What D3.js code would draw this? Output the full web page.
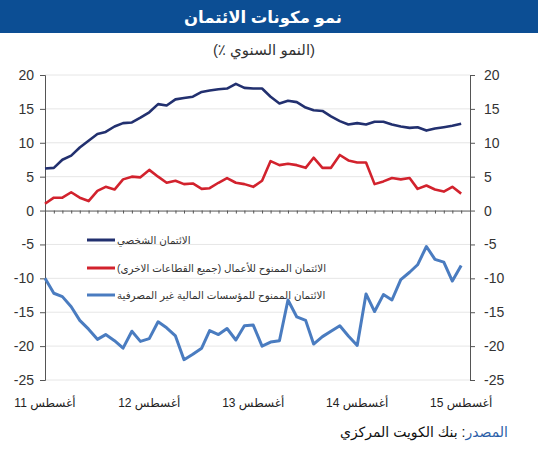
<!DOCTYPE html>
<html>
<head>
<meta charset="utf-8">
<script src="https://cdn.jsdelivr.net/npm/d3@7"></script>
<style>
  body { margin: 0; background: #fff; }
  svg text { font-family: "Liberation Sans", Arial, "DejaVu Sans", sans-serif; }
</style>
</head>
<body>
<div id="chart"></div>
<script>
// monthly data, Aug 2011 .. Aug 2015
var personalCredit = [6.2, 6.3, 7.5, 8.1, 9.3, 10.3, 11.3, 11.6, 12.4, 12.9, 13.0, 13.7, 14.5, 15.7, 15.5, 16.4, 16.6,
    16.8, 17.5, 17.7, 17.9, 18.0, 18.7, 18.1, 18.0, 18.0, 16.8, 15.8, 16.2, 16.0, 15.2, 14.8, 14.7,
    13.9, 13.2, 12.7, 12.9, 12.7, 13.1, 13.1, 12.7, 12.4, 12.2, 12.3, 11.8, 12.1, 12.3, 12.5, 12.8];
var businessCredit = [1.0, 1.9, 1.9, 2.7, 1.9, 1.4, 2.9, 3.5, 3.1, 4.6, 5.0, 4.9, 6.0, 5.0, 4.1, 4.4, 3.9,
    4.0, 3.2, 3.3, 4.1, 4.8, 4.1, 3.9, 3.5, 4.4, 7.3, 6.7, 6.9, 6.7, 6.3, 7.8, 6.3,
    6.3, 8.2, 7.4, 7.1, 7.1, 3.9, 4.3, 4.8, 4.6, 4.8, 3.2, 3.7, 3.1, 2.8, 3.5, 2.5];
var nbfiCredit = [-10.0, -12.2, -12.7, -14.2, -16.2, -17.5, -19.0, -18.3, -19.2, -20.3, -17.8, -19.3, -18.9, -16.4, -17.3, -18.5, -22.0,
    -21.2, -20.3, -17.7, -18.3, -17.4, -19.1, -17.0, -16.9, -20.0, -19.4, -19.2, -13.2, -15.7, -16.2, -19.7, -18.6,
    -17.8, -17.0, -18.5, -19.9, -12.3, -14.9, -12.4, -13.2, -10.2, -9.1, -8.0, -5.3, -7.2, -7.6, -10.4, -8.1];

var seriesNames = ["الائتمان الشخصي", "الائتمان الممنوح للأعمال (جميع القطاعات الاخرى)", "الائتمان الممنوح للمؤسسات المالية غير المصرفية"];
var seriesColors = ["#22306f", "#d2222d", "#4a7cc0"];
var yTicks = [-25, -20, -15, -10, -5, 0, 5, 10, 15, 20];
var xTickLabels = ["أغسطس 11", "أغسطس 12", "أغسطس 13", "أغسطس 14", "أغسطس 15"];

var months = d3.timeMonth.range(new Date(2011, 7, 1), new Date(2015, 8, 1));
var yearTicks = months.filter(function(d) { return d.getMonth() == 7; });

var w = 538, h = 450;
var svg = d3.select("#chart").append("svg")
    .attr("width", w)
    .attr("height", h);

// title band
svg.append("rect")
    .attr("x", 0).attr("y", 0)
    .attr("width", w).attr("height", 33)
    .attr("fill", "#0c4e94");
svg.append("text")
    .attr("x", 263).attr("y", 23)
    .attr("text-anchor", "middle")
    .attr("fill", "#fff")
    .attr("font-size", 16.5)
    .attr("font-weight", "bold")
    .text("نمو مكونات الائتمان");

// subtitle in pieces, laid out left to right so the % stays next to the "("
var subParts = ["(٪ ", "النمو السنوي", ")"];
var sub = svg.append("g");
var subTexts = subParts.map(function(p) {
    return sub.append("text")
        .attr("y", 55)
        .attr("fill", "#333")
        .attr("font-size", 15)
        .style("white-space", "pre")
        .text(p);
});
var lens = subTexts.map(function(t) { return t.node().getComputedTextLength(); });
var sx = 264 - d3.sum(lens) / 2;
subTexts.forEach(function(t, i) {
    t.attr("x", sx);
    sx += lens[i];
});

var xScale = d3.scaleTime()
    .domain([months[0], new Date(2015, 8, 1)])
    .range([45, 470]);
var yScale = d3.scaleLinear()
    .domain([-25, 20])
    .range([380, 75]);

// gridlines
svg.append("g")
    .selectAll("line")
    .data(yTicks.filter(function(d) { return d != 0; }))
    .enter().append("line")
    .attr("x1", 45).attr("x2", 470)
    .attr("y1", function(d) { return yScale(d); })
    .attr("y2", function(d) { return yScale(d); })
    .attr("stroke", "#e6e6e6")
    .attr("stroke-width", 1);

var yLeft = d3.axisLeft(yScale).tickValues(yTicks).tickSize(5).tickPadding(6)
    .tickFormat(function(d) { return String(d); });
var yRight = d3.axisRight(yScale).tickValues(yTicks).tickSize(5).tickPadding(9)
    .tickFormat(function(d) { return String(d); });

var gl = svg.append("g").attr("transform", "translate(45,0)").call(yLeft);
var gr = svg.append("g").attr("transform", "translate(470,0)").call(yRight);
[gl, gr].forEach(function(g) {
    g.select(".domain").attr("stroke", "#555");
    g.selectAll(".tick line").attr("stroke", "#555");
    g.selectAll(".tick text")
        .attr("fill", "#333")
        .attr("font-size", 14)
        .style("font-family", "'Liberation Sans', Arial, sans-serif");
});

// x axis along zero with monthly ticks
var xAxis = d3.axisBottom(xScale).tickValues(months.concat([new Date(2015, 8, 1)]))
    .tickSize(3).tickFormat("").tickSizeOuter(0);
var gx = svg.append("g").attr("transform", "translate(0," + yScale(0) + ")").call(xAxis);
gx.select(".domain").attr("stroke", "#555");
gx.selectAll(".tick line").attr("stroke", "#555");

// year labels
svg.append("g")
    .selectAll("text")
    .data(yearTicks)
    .enter().append("text")
    .attr("x", function(d) { return xScale(d); })
    .attr("y", 407)
    .attr("text-anchor", "middle")
    .attr("fill", "#222")
    .attr("font-size", 12)
    .text(function(d, i) { return xTickLabels[i]; });

// lines
var allSeries = [personalCredit, businessCredit, nbfiCredit];
var widths = [2.6, 2.6, 3];
var line = d3.line()
    .x(function(d, i) { return xScale(months[i]); })
    .y(function(d) { return yScale(d); });

allSeries.forEach(function(s, k) {
    svg.append("path")
        .datum(s)
        .attr("d", line)
        .attr("fill", "none")
        .attr("stroke", seriesColors[k])
        .attr("stroke-width", widths[k])
        .attr("stroke-linejoin", "round");
});

// legend
var legendY = [240, 268, 295];
var legend = svg.append("g")
    .selectAll("g")
    .data(seriesNames)
    .enter().append("g")
    .attr("transform", function(d, i) { return "translate(0," + legendY[i] + ")"; });
legend.append("line")
    .attr("x1", 87).attr("x2", 115)
    .attr("y1", 0).attr("y2", 0)
    .attr("stroke", function(d, i) { return seriesColors[i]; })
    .attr("stroke-width", 3);
legend.append("text")
    .attr("x", 117).attr("y", 4)
    .attr("fill", "#333")
    .attr("font-size", 10.3)
    .text(function(d) { return d; });

// source
var src = svg.append("text")
    .attr("x", 508).attr("y", 437)
    .attr("text-anchor", "start")
    .attr("direction", "rtl")
    .attr("font-size", 14);
src.append("tspan").attr("fill", "#2c5fa8").text("المصدر");
src.append("tspan").attr("fill", "#111").text(": بنك الكويت المركزي");
</script>
</body>
</html>
